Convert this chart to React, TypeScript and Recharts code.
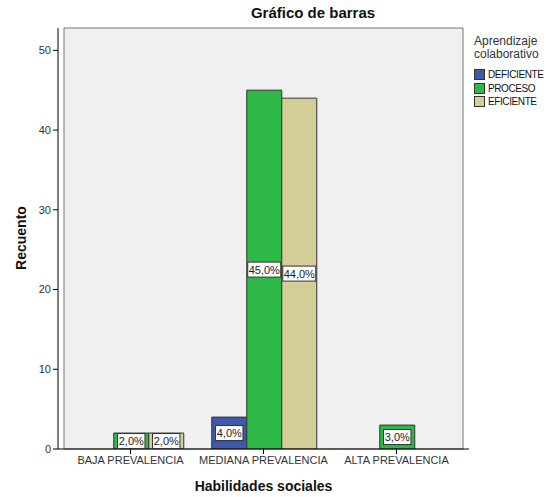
import React from "react";
import {
  BarChart,
  Bar,
  XAxis,
  YAxis,
  ReferenceArea,
  LabelList,
} from "recharts";

// categorías y recuentos
const categories = ["BAJA PREVALENCIA", "MEDIANA PREVALENCIA", "ALTA PREVALENCIA"];
const deficiente = [0, 4, 0];
const proceso = [2, 45, 3];
const eficiente = [2, 44, 0];
const yTicks = [0, 10, 20, 30, 40, 50];

const total = [...deficiente, ...proceso, ...eficiente].reduce((a, b) => a + b, 0);

const data = categories.map((name, i) => ({
  name,
  deficiente: deficiente[i],
  proceso: proceso[i],
  eficiente: eficiente[i],
}));

const series = [
  { key: "deficiente", name: "DEFICIENTE", color: "#3E58AC" },
  { key: "proceso", name: "PROCESO", color: "#2EB848" },
  { key: "eficiente", name: "EFICIENTE", color: "#D3CE97" },
];

const FONT = "'Liberation Sans', Arial, sans-serif";

const fmtPct = (v: number) => ((v / total) * 100).toFixed(1).replace(".", ",") + "%";

const PctLabel = (props: any) => {
  const { x, y, width, height, value } = props;
  if (!value) return null;
  const txt = fmtPct(value);
  const w = txt.length * 5.6 + 5;
  const h = 15;
  const cx = x + width / 2;
  const cy = y + height / 2;
  return (
    <g>
      <rect x={cx - w / 2} y={cy - h / 2} width={w} height={h} fill="#fff" stroke="#333" strokeWidth={1} />
      <text
        x={cx}
        y={cy + 4}
        textAnchor="middle"
        fontSize={11}
        fontFamily={FONT}
        style={{ fill: "#222", stroke: "none" }}
      >
        {txt}
      </text>
    </g>
  );
};

export default function App() {
  return (
    <div style={{ position: "absolute", left: 0, top: 0, width: 546, height: 497, background: "#fff", fontFamily: FONT }}>
      <div style={{ position: "absolute", left: 0, width: 626, top: 4, textAlign: "center", fontWeight: "bold", fontSize: 15, color: "#111" }}>
        Gráfico de barras
      </div>
      <BarChart
        width={546}
        height={497}
        data={data}
        margin={{ top: 28, right: 77, bottom: 18, left: 0 }}
        barCategoryGap={14.75}
        barGap={0}
      >
        <ReferenceArea y1={0} y2={52.8} fill="#F0F0F0" fillOpacity={1} stroke="#777" strokeWidth={1} />
        <XAxis
          dataKey="name"
          padding={{ left: 6, right: 6 }}
          stroke="#000"
          tickSize={5}
          height={30}
          interval={0}
          tick={{ fontSize: 11, fill: "#333", fontFamily: FONT }}
        />
        <YAxis
          domain={[0, 52.8]}
          ticks={yTicks}
          width={58}
          stroke="#000"
          tickSize={5}
          allowDataOverflow
          tick={{ fontSize: 11, fill: "#333", fontFamily: FONT }}
        />
        {series.map((s) => (
          <Bar
            key={s.key}
            dataKey={s.key}
            name={s.name}
            fill={s.color}
            stroke="#333"
            strokeWidth={1}
            isAnimationActive={false}
          >
            <LabelList dataKey={s.key} content={PctLabel} />
          </Bar>
        ))}
      </BarChart>
      <div
        style={{
          position: "absolute",
          left: 21,
          top: 238,
          transform: "translate(-50%, -50%) rotate(-90deg)",
          fontWeight: "bold",
          fontSize: 14,
          color: "#111",
          whiteSpace: "nowrap",
        }}
      >
        Recuento
      </div>
      <div style={{ position: "absolute", left: 58, width: 411, top: 478, textAlign: "center", fontWeight: "bold", fontSize: 14, color: "#111" }}>
        Habilidades sociales
      </div>
      <div style={{ position: "absolute", left: 474, top: 35, fontSize: 12, color: "#333", lineHeight: "13px" }}>
        <div>Aprendizaje</div>
        <div>colaborativo</div>
        <div style={{ marginTop: 7 }}>
          {series.map((s) => (
            <div key={s.key} style={{ display: "flex", alignItems: "center", height: 13.5, fontSize: 10, letterSpacing: -0.4, color: "#111" }}>
              <span style={{ display: "inline-block", width: 9, height: 9, background: s.color, border: "1px solid #333", marginRight: 3 }} />
              {s.name}
            </div>
          ))}
        </div>
      </div>
    </div>
  );
}
